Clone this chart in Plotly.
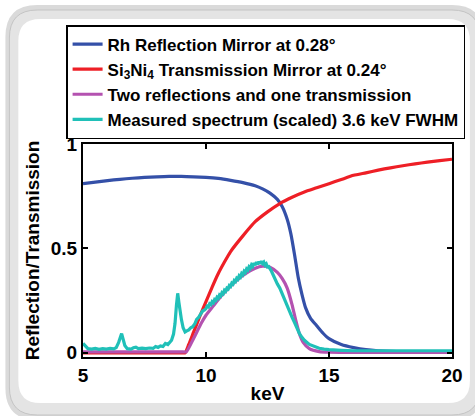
import plotly.graph_objects as go

# ---------------- data ----------------
rh_x = [5, 5.5, 6, 6.5, 7, 7.5, 8, 8.5, 9, 9.5, 10, 10.5, 11, 11.5, 12, 12.3, 12.6, 12.9,
        13.1, 13.3, 13.45, 13.6, 13.75, 13.9, 14.05, 14.25, 14.5, 14.75, 15, 15.5, 16,
        16.5, 17, 18, 19, 20]
rh_y = [0.81, 0.817, 0.825, 0.831, 0.836, 0.84, 0.843, 0.845, 0.845, 0.843, 0.84, 0.835,
        0.826, 0.815, 0.80, 0.785, 0.765, 0.735, 0.70, 0.64, 0.57, 0.47, 0.36, 0.28,
        0.215, 0.165, 0.13, 0.095, 0.068, 0.04, 0.025, 0.015, 0.01, 0.005, 0.003, 0.002]

si_x = [5, 6, 7, 8, 9, 9.15, 9.3, 9.5, 9.75, 10, 10.25, 10.5, 10.75, 11, 11.5, 12, 12.5,
        13, 13.5, 14, 14.5, 15, 15.5, 16, 16.5, 17, 17.5, 18, 18.5, 19, 19.5, 20]
si_y = [0, 0, 0, 0, 0, 0.0, 0.04, 0.10, 0.175, 0.245, 0.315, 0.38, 0.435, 0.485, 0.56,
        0.628, 0.675, 0.715, 0.745, 0.77, 0.79, 0.81, 0.83, 0.85, 0.862, 0.875, 0.886,
        0.896, 0.905, 0.913, 0.92, 0.927]

two_x = [5, 6, 7, 8, 9, 9.2, 9.5, 9.8, 10, 10.3, 10.6, 11, 11.5, 12, 12.3, 12.6, 12.9,
         13.1, 13.3, 13.5, 13.65, 13.8, 13.95, 14.2, 14.6, 15, 16, 17, 18, 19, 20]
two_y = [0.005, 0.005, 0.005, 0.005, 0.005, 0.005, 0.07, 0.14, 0.18, 0.225, 0.27, 0.32,
         0.37, 0.405, 0.415, 0.41, 0.385, 0.355, 0.31, 0.23, 0.155, 0.09, 0.05, 0.02,
         0.006, 0.003, 0.002, 0.002, 0.002, 0.002, 0.002]

meas_x = [5.0, 5.1, 5.2, 5.35, 5.5, 5.65, 5.8, 5.95, 6.1, 6.25, 6.35, 6.45, 6.52, 6.57,
          6.62, 6.7, 6.8, 6.95, 7.05, 7.15, 7.25, 7.4, 7.55, 7.7, 7.85, 7.95, 8.05, 8.15,
          8.25, 8.35, 8.45, 8.52, 8.6, 8.68, 8.74, 8.8, 8.85, 8.9, 8.95, 9.0, 9.07, 9.15,
          9.22, 9.3, 9.38, 9.46, 9.55, 9.62, 9.7, 9.78, 9.86, 9.94,
          10.00, 10.05, 10.10, 10.15, 10.20, 10.25, 10.30, 10.35, 10.40, 10.45, 10.50,
          10.55, 10.60, 10.65, 10.70, 10.75, 10.80, 10.85, 10.90, 10.95, 11.00, 11.05,
          11.10, 11.15, 11.20, 11.25, 11.30, 11.35, 11.40, 11.45, 11.50, 11.55, 11.60,
          11.65, 11.70, 11.75, 11.80, 11.85, 11.90, 11.95, 12.00, 12.05, 12.10, 12.15,
          12.20, 12.25, 12.30, 12.35, 12.40, 12.45, 12.50, 12.55, 12.60, 12.65, 12.70,
          12.75, 12.80, 12.9, 13.0, 13.1, 13.2, 13.3, 13.4, 13.5, 13.6, 13.7, 13.8, 13.9,
          14.0, 14.2, 14.4, 14.6, 14.8, 15.0, 15.5, 16, 17, 18, 19, 20]
meas_y = [0.045, 0.03, 0.02, 0.018, 0.021, 0.017, 0.02, 0.018, 0.021, 0.019, 0.025, 0.05,
          0.08, 0.092, 0.07, 0.035, 0.02, 0.018, 0.024, 0.027, 0.02, 0.022, 0.02, 0.023,
          0.021, 0.03, 0.026, 0.033, 0.03, 0.045, 0.04, 0.05, 0.06, 0.09, 0.14, 0.23,
          0.285, 0.24, 0.19, 0.16, 0.12, 0.1, 0.105, 0.11, 0.12, 0.125, 0.14, 0.16, 0.17,
          0.185, 0.2, 0.205,
          0.212, 0.224, 0.220, 0.235, 0.231, 0.245, 0.240, 0.255, 0.251, 0.266, 0.261,
          0.277, 0.272, 0.288, 0.283, 0.300, 0.295, 0.310, 0.306, 0.322, 0.318, 0.334,
          0.329, 0.346, 0.341, 0.357, 0.352, 0.369, 0.363, 0.380, 0.374, 0.391, 0.385,
          0.402, 0.396, 0.412, 0.405, 0.421, 0.414, 0.430, 0.420, 0.434, 0.424, 0.437,
          0.426, 0.439, 0.428, 0.434, 0.420, 0.426, 0.411, 0.413, 0.399, 0.394, 0.381,
          0.368, 0.352, 0.33, 0.31, 0.28, 0.25, 0.22, 0.195, 0.17, 0.145, 0.115, 0.092,
          0.074, 0.06, 0.04, 0.03, 0.022, 0.018, 0.015, 0.012, 0.01, 0.01, 0.01, 0.01, 0.01]

names = ["Rh Reflection Mirror at 0.28°",
         "Si<sub>3</sub>Ni<sub>4</sub> Transmission Mirror at 0.24°",
         "Two reflections and one transmission",
         "Measured spectrum (scaled) 3.6 keV FWHM"]
colors = ["#3450a8", "#ee1f26", "#b452b0", "#20c0b8"]
shapes_line = ["spline", "spline", "spline", "linear"]

x_ticks = [5, 10, 15, 20]
y_ticks = [0, 0.5, 1]
y_tick_text = ["0", "0.5", "1"]

# ---------------- layout geometry ----------------
W, H = 475, 416
L, R, T, B = 83, 21, 144, 59
PW, PH = W - L - R, H - T - B


def px(x):
    return (x - L) / PW


def py(y):
    return (H - B - y) / PH


def rrect(x0, y0, x1, y1, r):
    a0, a1 = px(x0), px(x1)
    b0, b1 = py(y0), py(y1)
    rx, ry = r / PW, r / PH
    return (f"M {a0 + rx} {b0} L {a1 - rx} {b0} Q {a1} {b0} {a1} {b0 - ry} "
            f"L {a1} {b1 + ry} Q {a1} {b1} {a1 - rx} {b1} L {a0 + rx} {b1} "
            f"Q {a0} {b1} {a0} {b1 + ry} L {a0} {b0 - ry} Q {a0} {b0} {a0 + rx} {b0} Z")


FONT = "Liberation Sans, Arial, sans-serif"

fig = go.Figure()
for xs, ys, nm, c, sh in zip([rh_x, si_x, two_x, meas_x], [rh_y, si_y, two_y, meas_y],
                             names, colors, shapes_line):
    line = dict(color=c, width=3.2, shape=sh)
    if sh == "spline":
        line["smoothing"] = 0.5
    fig.add_trace(go.Scatter(x=xs, y=ys, mode="lines", name=nm, line=line))

shapes = [
    dict(type="path", path=rrect(5, 5, 486, 420, 32), xref="paper", yref="paper",
         fillcolor="#dadada", line=dict(width=0), layer="below"),
    dict(type="path", path=rrect(9, 10, 482, 415, 28), xref="paper", yref="paper",
         fillcolor="#e4e4e4", line=dict(color="#c4c4c4", width=1), layer="below"),
    dict(type="path", path=rrect(18, 19, 472, 403, 22), xref="paper", yref="paper",
         fillcolor="#ffffff", line=dict(width=0), layer="below"),
]

fig.update_layout(
    width=W, height=H,
    margin=dict(l=L, r=R, t=T, b=B, pad=0),
    paper_bgcolor="#ffffff",
    plot_bgcolor="rgba(0,0,0,0)",
    font=dict(family=FONT, size=18, color="black", weight="bold"),
    shapes=shapes,
    showlegend=True,
    legend=dict(x=px(66), y=py(25), xanchor="left", yanchor="top",
                bgcolor="white", bordercolor="black", borderwidth=1.5,
                font=dict(family=FONT, size=17, color="black", weight="bold"),
                tracegroupgap=0, itemwidth=30),
    xaxis=dict(range=[5, 20], tickvals=x_ticks, ticks="inside", ticklen=5,
               tickwidth=1.5, tickcolor="black", showline=True, linecolor="black",
               linewidth=2, mirror="ticks", showgrid=False, zeroline=False,
               tickfont=dict(size=19), title=dict(text="keV", font=dict(size=19),
                                                  standoff=2)),
    yaxis=dict(range=[-0.02, 1], tickvals=y_ticks, ticktext=y_tick_text,
               ticks="inside", ticklen=5, tickwidth=1.5, tickcolor="black",
               showline=True, linecolor="black", linewidth=2, mirror="ticks",
               showgrid=False, zeroline=False, tickfont=dict(size=19),
               title=dict(text="Reflection/Transmission", font=dict(size=19),
                          standoff=6)),
)

fig.write_html("out.html")
